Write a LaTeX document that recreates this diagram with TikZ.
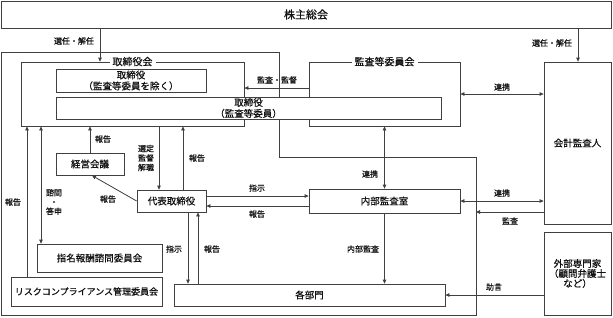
\documentclass[tikz,border=0pt]{standalone}
\usepackage{fontspec}
\setmainfont{Noto Sans CJK JP}[FakeBold=0.6]
\usetikzlibrary{arrows.meta,calc}
\definecolor{ln}{HTML}{404040}
\definecolor{tx}{HTML}{111111}
\begin{document}
\begin{tikzpicture}[x=1pt,y=-1pt,
  line width=0.8pt,
  every node/.style={text=tx},
  box/.style={draw=ln,fill=white,rectangle,inner sep=0pt,align=center,font=\fontsize{9.5}{11}\selectfont},
  frame/.style={draw=ln,rectangle,inner sep=0pt},
  flabel/.style={fill=white,inner sep=3pt,font=\fontsize{10}{12}\selectfont},
  lbl/.style={inner sep=0pt,align=center,font=\fontsize{8}{9.5}\selectfont},
  arr/.style={draw=ln,-{Triangle[length=4pt,width=3.6pt]}},
  darr/.style={draw=ln,{Triangle[length=4pt,width=3.6pt]}-{Triangle[length=4pt,width=3.6pt]}}
]
\useasboundingbox (0,0) rectangle (613,317);
% outer company frame
\draw[ln] (1.5,52) -- (279,52) -- (279,157) -- (476,157) -- (476,315.5) -- (1.5,315.5) -- cycle;

% top
\node[box,minimum width=610pt,minimum height=27pt,font=\fontsize{11}{13}\selectfont] (kabu) at (306,14.5) {株主総会};

% frames
\node[frame,minimum width=223pt,minimum height=64pt] (torikai) at (132.5,94) {};
\node[flabel] (torikailbl) at (torikai.north) {取締役会};
\node[frame,minimum width=151pt,minimum height=64pt] (kansakai) at (384.5,94) {};
\node[flabel] (kansakailbl) at (kansakai.north) {監査等委員会};

% boxes
\node[box,minimum width=150pt,minimum height=23pt] (tori1) at (131,80.5) {取締役\\（監査等委員を除く）};
\node[box,minimum width=385pt,minimum height=22pt] (tori2) at (248.5,108) {取締役\\（監査等委員）};
\node[box,minimum width=67pt,minimum height=162pt] (kaikei) at (577.5,143) {会計監査人};
\node[box,minimum width=151pt,minimum height=24pt] (naibu) at (384.5,201) {内部監査室};
\node[box,minimum width=67pt,minimum height=83pt,font=\fontsize{9.5}{10}\selectfont] (gaibu) at (577.5,273.5) {外部専門家\\（顧問弁護士\\など）};
\node[box,minimum width=271pt,minimum height=22pt] (bumon) at (309.5,295) {各部門};
\node[box,minimum width=69pt,minimum height=22pt] (daihyo) at (171.5,201) {代表取締役};
\node[box,minimum width=68pt,minimum height=22pt] (keiei) at (90,164) {経営会議};
\node[box,minimum width=125pt,minimum height=28pt] (shimei) at (99.5,258) {指名報酬諮問委員会};
\node[box,minimum width=151pt,minimum height=29pt,font=\fontsize{9}{11}\selectfont] (risk) at (86.5,291.5) {リスクコンプライアンス管理委員会};

% connectors
\draw[arr] (kabu.south -| 100,0) -- (torikai.north -| 100,0);
\draw[arr] (kabu.south -| 578,0) -- (kaikei.north -| 578,0);
\draw[arr] (kansakai.west |- 0,88) -- (torikai.east |- 0,88);
\draw[darr] (kansakai.east |- 0,94) -- (kaikei.west |- 0,94);
\draw[darr] (kansakai.south) -- (naibu.north);
\draw[darr] (naibu.east |- 0,201) -- (kaikei.west |- 0,201);
\coordinate (frameR) at (476,212);
\draw[arr] (kaikei.west |- 0,212) -- (frameR);
\draw[arr] (gaibu.west |- 0,295) -- (bumon.east |- 0,295);
\draw[arr] (naibu.south) -- (bumon.north -| naibu.south);
\draw[arr] (daihyo.east |- 0,196) -- (naibu.west |- 0,196);
\draw[arr] (naibu.west |- 0,206) -- (daihyo.east |- 0,206);
\draw[arr] (daihyo.south -| 188,0) -- (bumon.north -| 188,0);
\draw[arr] (bumon.north -| 198,0) -- (daihyo.south -| 198,0);
\draw[arr] (torikai.south -| 159,0) -- (daihyo.north -| 159,0);
\draw[arr] (daihyo.north -| 183,0) -- (torikai.south -| 183,0);
\draw[arr] (keiei.north) -- (torikai.south -| keiei.north);
\draw[arr] (daihyo.west) -- (92,175.5);
\draw[darr] (torikai.south -| 41,0) -- (shimei.north -| 41,0);
\draw[arr] (risk.north -| 27,0) -- (torikai.south -| 27,0);

% labels
\node[lbl] (l1) at (74,41) {選任・解任};
\node[lbl] (l2) at (552,43) {選任・解任};
\node[lbl] (l3) at (277,80) {監査・監督};
\node[lbl] (l4) at (502,87) {連携};
\node[lbl] (l5) at (370,174) {連携};
\node[lbl] (l6) at (502,193) {連携};
\node[lbl] (l7) at (510,221) {監査};
\node[lbl] (l8) at (363,249) {内部監査};
\node[lbl] (l9) at (494,287) {助言};
\node[lbl] (l10) at (257,188) {指示};
\node[lbl] (l11) at (257,214) {報告};
\node[lbl] (l12) at (174,249) {指示};
\node[lbl] (l13) at (212,249) {報告};
\node[lbl] (l14) at (108,199) {報告};
\node[lbl] (l15) at (103,139) {報告};
\node[lbl,font=\fontsize{8}{9.3}\selectfont] (l16) at (54,202) {諮問\\・\\答申};
\node[lbl] (l17) at (13,202) {報告};
\node[lbl,font=\fontsize{8}{9.5}\selectfont] (l18) at (146,158) {選定\\監督\\解職};
\node[lbl] (l19) at (197,158) {報告};
\end{tikzpicture}
\end{document}
